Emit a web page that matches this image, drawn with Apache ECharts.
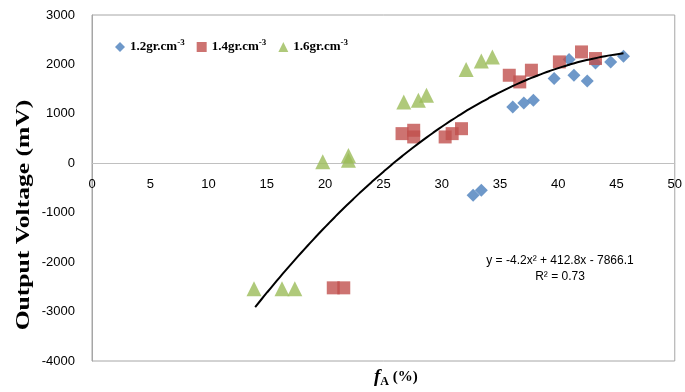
<!DOCTYPE html>
<html>
<head>
<meta charset="utf-8">
<script src="https://cdn.jsdelivr.net/npm/echarts@6/dist/echarts.min.js"></script>
<style>html,body{margin:0;padding:0;background:#fff;}#c{width:685px;height:392px;}</style>
</head>
<body>
<div id="c"></div>
<script>
// Series 1.2 gr.cm-3 (blue diamonds): [fA %, mV]
var s12 = [[32.7,-648],[33.4,-547],[36.1,1140],[37.05,1221],[37.87,1275],[39.65,1715],[40.93,2099],[41.35,1781],[42.49,1666],[43.2,2030],[44.5,2050],[45.6,2166]];
// Series 1.4 gr.cm-3 (red squares)
var s14 = [[20.7,-2520],[21.6,-2520],[26.6,600],[27.6,668],[27.6,533],[30.3,533],[30.9,600],[31.7,700],[35.8,1781],[36.7,1646],[37.7,1883],[40.1,2051],[42.0,2253],[43.2,2119]];
// Series 1.6 gr.cm-3 (green triangles)
var s16 = [[13.9,-2537],[16.3,-2537],[17.4,-2537],[19.8,30],[22.0,160],[22.0,60],[26.75,1241],[28.0,1275],[28.7,1376],[32.1,1897],[33.4,2071],[34.35,2152]];
// Polynomial trendline coefficients shown on the chart: y = a x^2 + b x + c
var trendCoef = [-4.2, 412.8, -7866.1];
var trendRange = [14, 45.6];
var seriesNames = ['1.2gr.cm-3','1.4gr.cm-3','1.6gr.cm-3'];
var xTicks = {min:0, max:50, interval:5};
var yTicks = {min:-4000, max:3000, interval:1000};

var trend = [];
for (var i = 0; i <= 60; i++) {
  var x = trendRange[0] + (trendRange[1]-trendRange[0]) * i / 60;
  trend.push([x, trendCoef[0]*x*x + trendCoef[1]*x + trendCoef[2]]);
}

var W = 685, H = 392, gTop = 15, gBottom = 31;
var plotH = H - gTop - gBottom;
var zeroOffset = plotH * (0 - yTicks.min) / (yTicks.max - yTicks.min);

var chart = echarts.init(document.getElementById('c'));
var serif = '"Liberation Serif", "DejaVu Serif", serif';
var sans = '"Liberation Sans", "DejaVu Sans", sans-serif';
chart.setOption({
  animation: false,
  grid: {left: 92, right: 5, top: gTop, bottom: gBottom, show: true, borderColor: '#a6a6a6', borderWidth: 1},
  legend: {
    left: 110, top: 33, itemGap: 12, itemWidth: 10, itemHeight: 10,
    data: [
      {name: seriesNames[0], icon: 'diamond'},
      {name: seriesNames[1], icon: 'rect'},
      {name: seriesNames[2], icon: 'triangle'}
    ],
    formatter: function (n) { return '{b|' + n.replace('-3','') + '}{s|-3}'; },
    textStyle: {
      rich: {
        b: {fontFamily: serif, fontWeight: 'bold', fontSize: 13, color: '#000'},
        s: {fontFamily: serif, fontWeight: 'bold', fontSize: 9, color: '#000', padding: [0,0,9,0]}
      }
    }
  },
  xAxis: {
    type: 'value', min: xTicks.min, max: xTicks.max, interval: xTicks.interval,
    position: 'bottom', offset: -zeroOffset,
    axisLine: {onZero: false, lineStyle: {color: '#c0c0c0'}},
    axisTick: {show: false},
    splitLine: {show: false},
    axisLabel: {fontFamily: sans, fontSize: 13, color: '#000', margin: 15}
  },
  yAxis: {
    type: 'value', min: yTicks.min, max: yTicks.max, interval: yTicks.interval,
    axisLine: {show: true, lineStyle: {color: '#a6a6a6'}},
    axisTick: {show: false},
    splitLine: {show: false},
    axisLabel: {fontFamily: sans, fontSize: 13, color: '#000', margin: 17, formatter: function (v) { return String(v); }}
  },
  graphic: [
    {type: 'text', x: 24, y: 215, rotation: Math.PI/2, scaleX: 1.42, scaleY: 1,
     style: {text: 'Output Voltage (mV)', font: 'bold 18px ' + serif, fill: '#000', textAlign: 'center', textVerticalAlign: 'middle'}},
    {type: 'text', x: 374, y: 366,
     style: {text: '{f|f}{a|A}{p| (%)}', rich: {
       f: {fontFamily: serif, fontStyle: 'italic', fontWeight: 'bold', fontSize: 19, color: '#000'},
       a: {fontFamily: serif, fontWeight: 'bold', fontSize: 12, color: '#000', padding: [10,0,0,0]},
       p: {fontFamily: serif, fontWeight: 'bold', fontSize: 15, color: '#000'}
     }}},
    {type: 'text', x: 560, y: 253,
     style: {text: 'y = -4.2x² + 412.8x - 7866.1\nR² = 0.73', font: '12px ' + sans, fill: '#000', textAlign: 'center', lineHeight: 16}}
  ],
  series: [
    {name: seriesNames[0], type: 'scatter', symbol: 'diamond', symbolSize: 13, data: s12, itemStyle: {color: '#4A7EBB'}, z: 3},
    {name: seriesNames[1], type: 'scatter', symbol: 'rect', symbolSize: 13, data: s14, itemStyle: {color: '#C0504D'}, z: 3},
    {name: seriesNames[2], type: 'scatter', symbol: 'triangle', symbolSize: 15, data: s16, itemStyle: {color: '#9BBB59'}, z: 3},
    {name: 'trend', type: 'line', data: trend, showSymbol: false, smooth: true, lineStyle: {color: '#000', width: 2}, z: 5, silent: true}
  ]
});
</script>
</body>
</html>
